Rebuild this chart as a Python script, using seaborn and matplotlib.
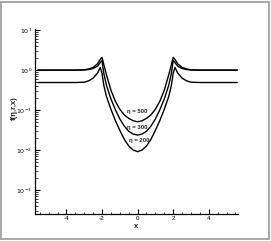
import numpy as np
import pandas as pd
import matplotlib
matplotlib.use("Agg")
import matplotlib.pyplot as plt
from matplotlib.patches import Rectangle
from matplotlib.ticker import FixedLocator, MultipleLocator, LogLocator, NullFormatter
import seaborn as sns

sns.set_style("white")
plt.rcParams['font.family'] = ['Liberation Sans', 'DejaVu Sans']

### Data
x_vals = [-5.6, -3.5, -3.0, -2.75, -2.5, -2.25, -2.1, -2.0, -1.9, -1.75, -1.5, -1.25, -1.0, -0.75, -0.5, -0.25,
          0.0,
          0.25, 0.5, 0.75, 1.0, 1.25, 1.5, 1.75, 1.9, 2.0, 2.1, 2.25, 2.5, 2.75, 3.0, 3.5, 5.6]

f_500 = [1.0, 1.0, 1.02, 1.07, 1.17, 1.45, 1.86, 2.09, 1.38, 0.76, 0.316, 0.166, 0.105, 0.076, 0.062, 0.054,
         0.051,
         0.054, 0.062, 0.076, 0.105, 0.166, 0.316, 0.76, 1.38, 2.09, 1.86, 1.45, 1.17, 1.07, 1.02, 1.0, 1.0]

f_300 = [1.0, 1.0, 1.01, 1.035, 1.10, 1.26, 1.55, 1.74, 0.83, 0.417, 0.19, 0.102, 0.060, 0.0398, 0.0295, 0.0251,
         0.0237,
         0.0251, 0.0295, 0.0398, 0.060, 0.102, 0.19, 0.417, 0.83, 1.74, 1.55, 1.26, 1.10, 1.035, 1.01, 1.0, 1.0]

f_200 = [0.49, 0.49, 0.50, 0.54, 0.63, 0.85, 1.17, 0.83, 0.417, 0.219, 0.105, 0.055, 0.031, 0.0186, 0.0126, 0.010,
         0.0091,
         0.010, 0.0126, 0.0186, 0.031, 0.055, 0.105, 0.219, 0.417, 0.83, 1.17, 0.85, 0.63, 0.54, 0.50, 0.49, 0.49]

eta_labels = ["η = 500", "η = 300", "η = 200"]
label_pos = [(0.0, 0.091), (0.0, 0.037), (0.1, 0.0178)]

x_ticks = [-4, -2, 0, 2, 4]
y_ticks = [1e-3, 1e-2, 1e-1, 1e0, 1e1]
y_ticklabels = ["$10^{-3}$", "$10^{-2}$", "$10^{-1}$", "$10^{0}$", "$10^{1}$"]

df = pd.concat([
    pd.DataFrame({"x": x_vals, "f": f_500, "eta": "500"}),
    pd.DataFrame({"x": x_vals, "f": f_300, "eta": "300"}),
    pd.DataFrame({"x": x_vals, "f": f_200, "eta": "200"}),
])

### Plot
fig = plt.figure(figsize=(2.71, 2.41), dpi=100)
ax = fig.add_axes([0.129, 0.114, 0.749, 0.764])

sns.lineplot(data=df, x="x", y="f", hue="eta", palette=["k", "k", "k"],
             estimator=None, sort=False, lw=1.0, legend=False, ax=ax)

ax.set_yscale("log")
ax.set_xlim(-5.77, 5.64)
ax.set_ylim(10 ** -3.59, 10 ** 1.02)

for lab, (tx, ty) in zip(eta_labels, label_pos):
    ax.text(tx, ty, lab, ha="center", va="center", fontsize=4.3, fontweight="bold")

# axes look
for s in ["top", "right"]:
    ax.spines[s].set_visible(False)
for s in ["left", "bottom"]:
    ax.spines[s].set_linewidth(0.9)
    ax.spines[s].set_color("k")

ax.xaxis.set_major_locator(FixedLocator(x_ticks))
ax.xaxis.set_minor_locator(MultipleLocator(0.5))
ax.set_xticklabels([str(t) for t in x_ticks])
ax.yaxis.set_major_locator(FixedLocator(y_ticks))
ax.set_yticklabels(y_ticklabels)
ax.yaxis.set_minor_locator(LogLocator(base=10, subs=np.arange(2, 10)))
ax.yaxis.set_minor_formatter(NullFormatter())

ax.tick_params(which="major", direction="in", length=3.5, width=0.8, labelsize=4.5, pad=2, colors="k")
ax.tick_params(which="minor", direction="in", length=1.8, width=0.6)
ax.tick_params(axis="y", which="both", left=True)
ax.tick_params(axis="x", which="both", bottom=True)

ax.set_xlabel("x", fontsize=5.5, fontweight="bold", labelpad=1)
ax.set_ylabel("f(η,r,x)", fontsize=5.5, fontweight="bold")
ax.yaxis.set_label_coords(-0.085, 0.572)

# grey frame round the figure
fig.patches.append(Rectangle((0.004, 0.01), 0.99, 0.982, transform=fig.transFigure,
                             fill=False, edgecolor="#999999", lw=1.2))

fig.savefig("out.png", dpi=100)
